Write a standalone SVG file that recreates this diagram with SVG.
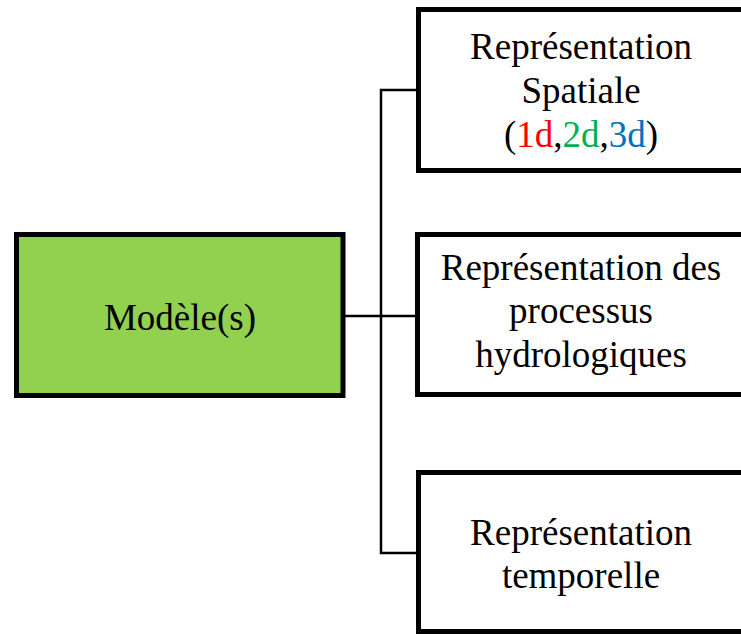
<svg xmlns="http://www.w3.org/2000/svg" width="741" height="634" viewBox="0 0 741 634">
<style>
.box{fill:#fff;stroke:#000;stroke-width:5}
.t{font-family:"Liberation Serif","Times New Roman",serif;font-size:37px;fill:#000;text-anchor:middle}
.c{fill:none;stroke:#000;stroke-width:2.5}
</style>
<rect width="741" height="634" fill="#fff"/>
<g id="connectors">
<path class="c" d="M343 316 H417"/>
<path class="c" d="M417 90 H381 V553 H417"/>
</g>
<g id="modeles">
<rect x="16.5" y="234.5" width="326.5" height="161" fill="#92D050" stroke="#000" stroke-width="5"/>
<text class="t" x="180" y="330">Modèle(s)</text>
</g>
<g id="spatiale">
<rect class="box" x="418.5" y="9.5" width="340" height="161"/>
<text class="t" x="581" y="59">Représentation</text>
<text class="t" x="581" y="103">Spatiale</text>
<text class="t" x="581" y="147">(<tspan fill="#FF0000">1d</tspan>,<tspan fill="#00B050">2d</tspan>,<tspan fill="#0070C0">3d</tspan>)</text>
</g>
<g id="processus">
<rect class="box" x="417.5" y="234.5" width="340" height="160"/>
<text class="t" x="581" y="280">Représentation des</text>
<text class="t" x="581" y="323">processus</text>
<text class="t" x="581" y="367">hydrologiques</text>
</g>
<g id="temporelle">
<rect class="box" x="418.5" y="472.5" width="340" height="159"/>
<text class="t" x="581" y="545">Représentation</text>
<text class="t" x="581" y="588">temporelle</text>
</g>
</svg>
